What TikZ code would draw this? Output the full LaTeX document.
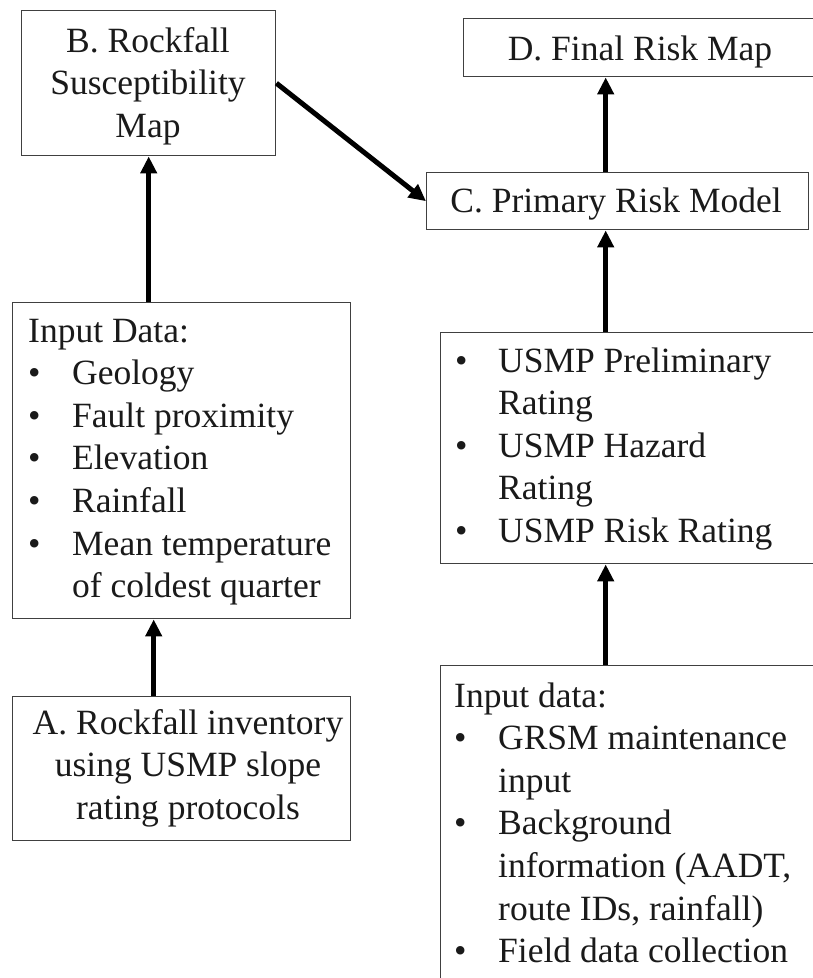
\documentclass[tikz,border=0pt]{standalone}
\usepackage{fontspec}
\setmainfont{Liberation Serif}
\usetikzlibrary{arrows.meta}
\definecolor{edge}{HTML}{404040}
\definecolor{ink}{HTML}{1A1A1A}
\begin{document}
\begin{tikzpicture}[x=1pt,y=-1pt,
  box/.style={draw=edge,line width=1.4pt,rectangle,inner sep=0pt,anchor=north west},
  txt/.style={inner sep=0pt,text=ink,font=\fontsize{35.5}{42.6}\selectfont},
  arr/.style={line width=5pt,-{Triangle[length=17pt,width=16pt]},black}]
\useasboundingbox (0,0) rectangle (812,978);
\fill[white] (0,0) rectangle (812,978);
% boxes
\node[box,minimum width=254pt,minimum height=145pt] (B) at (21,10) {};
\node[box,minimum width=338pt,minimum height=316pt] (in1) at (12,302) {};
\node[box,minimum width=338pt,minimum height=144pt] (A) at (12,696) {};
\node[box,minimum width=380pt,minimum height=58pt] (D) at (463,18) {};
\node[box,minimum width=382pt,minimum height=57pt] (C) at (426,172) {};
\node[box,minimum width=390pt,minimum height=231pt] (mid) at (440,332) {};
\node[box,minimum width=390pt,minimum height=340pt] (bot) at (440,665) {};
% texts
\node[txt,anchor=base] (Bt) at (148,52) {\begin{tabular}[t]{@{}c@{}}B. Rockfall\\Susceptibility\\Map\end{tabular}};
\node[txt,anchor=base west] (in1t) at (28,342) {\begin{tabular}[t]{@{}p{44pt}@{}l@{}}
\multicolumn{2}{@{}l@{}}{Input Data:}\\
\textbullet & Geology\\
\textbullet & Fault proximity\\
\textbullet & Elevation\\
\textbullet & Rainfall\\
\textbullet & Mean temperature\\
 & of coldest quarter\end{tabular}};
\node[txt,anchor=base] (At) at (188,734) {\begin{tabular}[t]{@{}c@{}}A. Rockfall inventory\\using USMP slope\\rating protocols\end{tabular}};
\node[txt,anchor=base] (Dt) at (640,60) {D. Final Risk Map};
\node[txt,anchor=base] (Ct) at (616,212) {C. Primary Risk Model};
\node[txt,anchor=base west] (midt) at (455,372) {\begin{tabular}[t]{@{}p{43pt}@{}l@{}}
\textbullet & USMP Preliminary\\
 & Rating\\
\textbullet & USMP Hazard\\
 & Rating\\
\textbullet & USMP Risk Rating\end{tabular}};
\node[txt,anchor=base west] (bott) at (454,707) {\begin{tabular}[t]{@{}p{44pt}@{}l@{}}
\multicolumn{2}{@{}l@{}}{Input data:}\\
\textbullet & GRSM maintenance\\
 & input\\
\textbullet & Background\\
 & information (AADT,\\
 & route IDs, rainfall)\\
\textbullet & Field data collection\end{tabular}};
% connectors
\draw[arr] (in1.north -| B.south) -- (B.south);
\draw[arr] ([xshift=-28pt]A.north) -- ([xshift=-28pt]A.north |- in1.south);
\draw[arr] (B.east) -- (C.west);
\draw[arr] ([xshift=-12pt]C.north) -- ([xshift=-12pt]C.north |- D.south);
\draw[arr] ([xshift=-12pt]C.south |- mid.north) -- ([xshift=-12pt]C.south);
\draw[arr] ([xshift=-12pt]C.south |- bot.north) -- ([xshift=-12pt]C.south |- mid.south);
\end{tikzpicture}
\end{document}
